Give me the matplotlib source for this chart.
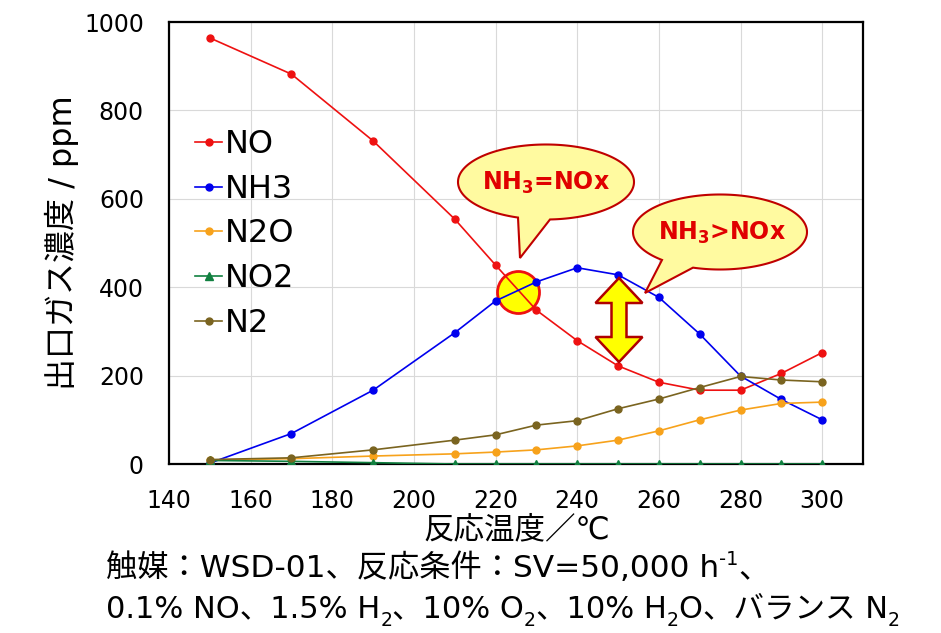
import matplotlib
matplotlib.use("Agg")
import matplotlib.pyplot as plt
import matplotlib.transforms as mtransforms
from matplotlib.patches import Polygon
import numpy as np

plt.rcParams["font.family"] = ["DejaVu Sans", "Noto Sans CJK JP"]

W, H = 941, 633

# data (ppm)
temps = [150, 170, 190, 210, 220, 230, 240, 250, 260, 270, 280, 290, 300]
no = [964, 882, 731, 554, 450, 348, 279, 222, 185, 167, 167, 205, 252]
nh3 = [2, 69, 167, 297, 369, 412, 444, 428, 377, 294, 199, 146, 100]
n2o = [9, 12, 18, 23, 27, 32, 41, 54, 75, 100, 122, 137, 140]
no2 = [8, 6, 3, 0, 0, 0, 0, 0, 0, 0, 0, 0, 0]
n2 = [10, 14, 32, 54, 66, 88, 98, 125, 147, 173, 198, 190, 186]

series = [
    ("NO", no, "#EE1111", "o", 5),
    ("NH3", nh3, "#0000EE", "o", 5),
    ("N2O", n2o, "#F7A21B", "o", 5),
    ("NO2", no2, "#118040", "^", 5.5),
    ("N2", n2, "#7A6420", "o", 5),
]

fig = plt.figure(figsize=(W / 100, H / 100), dpi=100)
ax = fig.add_axes([169 / W, 1 - 464 / H, (863 - 169) / W, (464 - 22) / H])

# pixel coords (y down) -> figure
px = mtransforms.Affine2D().scale(1 / W, -1 / H).translate(0, 1) + fig.transFigure

for name, vals, col, mk, ms in series:
    ax.plot(temps, vals, color=col, marker=mk, markersize=ms, lw=1.2,
            label=name, zorder=3)

ax.set_xlim(140, 310)
ax.set_ylim(0, 1000)
ax.set_xticks(np.arange(140, 301, 20))
ax.set_yticks(np.arange(0, 1001, 200))
ax.grid(True, color="#D9D9D9", lw=0.8)
ax.set_axisbelow(True)
ax.tick_params(length=0, labelsize=17)
ax.tick_params(axis="y", pad=18)
ax.tick_params(axis="x", pad=18)
for s in ax.spines.values():
    s.set_linewidth(1.6)

ax.set_ylabel("出口ガス濃度 / ppm", fontsize=23, labelpad=4)
fig.text(517 / W, 1 - 530 / H, "反応温度／℃", fontsize=22,
         ha="center", va="center")

ax.legend(loc="upper left", bbox_to_anchor=(195 / W, 1 - 129 / H),
          bbox_transform=fig.transFigure, frameon=False, fontsize=23,
          handlelength=0.85, handletextpad=0.1, labelspacing=0.43,
          borderpad=0, borderaxespad=0)

# crossing circle
ax.scatter([225.5], [390], s=(42 * 0.72) ** 2, facecolor="#FFFF00",
           edgecolor="#EE1111", linewidth=2, zorder=2)

# double arrow
cx, y0, y1 = 619, 278, 362
hl, hw, sw = 25, 23.5, 7.5
arrow = [(cx, y0), (cx + hw, y0 + hl), (cx + sw, y0 + hl), (cx + sw, y1 - hl),
         (cx + hw, y1 - hl), (cx, y1), (cx - hw, y1 - hl), (cx - sw, y1 - hl),
         (cx - sw, y0 + hl), (cx - hw, y0 + hl)]
fig.add_artist(Polygon(arrow, closed=True, facecolor="#FFFF00",
                       edgecolor="#B00000", lw=1.8, transform=px, zorder=5))


def bubble(cx, cy, a, b, xl, xr, apex):
    tl = np.arccos((xl - cx) / a)
    tr = np.arccos((xr - cx) / a)
    t = np.linspace(tl, tr + 2 * np.pi, 200)
    pts = list(zip(cx + a * np.cos(t), cy + b * np.sin(t)))
    pts.append(apex)
    fig.add_artist(Polygon(pts, closed=True, facecolor="#FFFAA0",
                           edgecolor="#C00000", lw=1.5, transform=px, zorder=5))


bubble(546, 182, 88, 37.5, 518, 550, (520, 258))
fig.text(546, 183, r"NH$_\mathbf{3}$=NOx", transform=px, fontsize=17,
         fontweight="bold", color="#E00000", ha="center", va="center", zorder=6)
bubble(720, 232, 87, 37.5, 662, 693, (645, 293))
fig.text(722, 233, r"NH$_\mathbf{3}$>NOx", transform=px, fontsize=17,
         fontweight="bold", color="#E00000", ha="center", va="center", zorder=6)

renderer = fig.canvas.get_renderer()


def rich_line(x, y, pieces, size):
    # pieces: (text, kind) with kind "n", "sub" or "sup"; x, y in pixels
    for txt, kind in pieces:
        fs, dy = size, 0
        if kind == "sub":
            fs, dy = size * 0.62, size * 0.42
        elif kind == "sup":
            fs, dy = size * 0.62, -size * 0.55
        t = fig.text(x, y + dy, txt, transform=px, fontsize=fs,
                     ha="left", va="baseline")
        x += t.get_window_extent(renderer).width


rich_line(106, 577, [("触媒：WSD-01、反応条件：SV=50,000 h", "n"), ("-1", "sup"),
                     ("、", "n")], 22.5)
rich_line(106, 617, [("0.1% NO、1.5% H", "n"), ("2", "sub"), ("、10% O", "n"),
                     ("2", "sub"), ("、10% H", "n"), ("2", "sub"),
                     ("O、バランス N", "n"), ("2", "sub")], 22)

fig.savefig("out.png", dpi=100)
